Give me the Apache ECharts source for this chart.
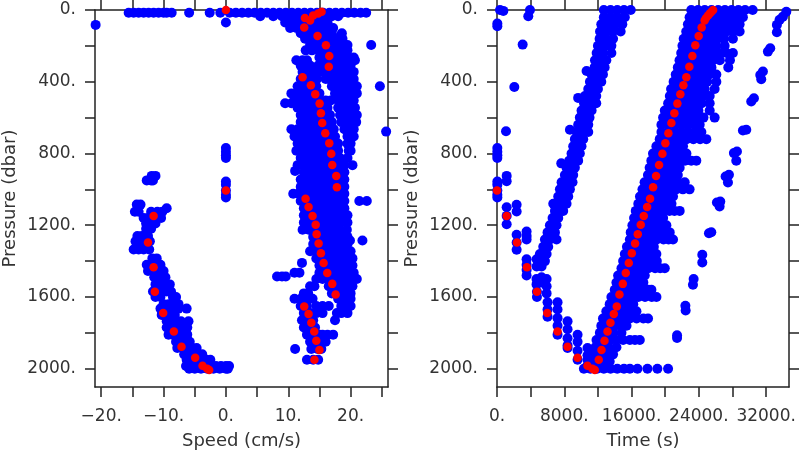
<!DOCTYPE html>
<html><head><meta charset="utf-8">
<style>html,body{margin:0;padding:0;background:#fff}#c{width:800px;height:450px}</style>
<script src="https://cdn.jsdelivr.net/npm/echarts@6/dist/echarts.min.js"></script>
</head><body><div id="c"></div>
<script>
// red profile
const redPressure=[1006,1148,1296,1434,1571,1690,1792,1877,1939,1983,2000,2007,1950,1896,1844,1792,1744,1695,1653,1586,1527,1467,1410,1356,1302,1250,1198,1148,1099,1053,988,925,864,802,743,687,630,576,522,470,420,375,316,256,197,145,98,59,45,30,20,10,0];
const redSpeed=[0,-11.6,-12.5,-11.6,-11.4,-10.06,-8.35,-7.12,-4.93,-3.75,-3,-2.68,14.2,15,14.5,14.17,13.7,13.26,12.56,17.6,17.06,16.26,15.67,15.24,14.87,14.55,14.4,13.9,13.26,12.78,17.8,17.7,17.06,16.9,16.58,15.94,15.45,15.24,15.03,14.33,13.63,12.3,16.5,16.58,16.04,14.7,12.56,13.5,12.67,14,14.8,15.35,0];
const redTime=[0,1150,2370,3560,4750,5975,7200,8390,9580,10760,11350,11630,12100,12425,12780,13140,13490,13890,14245,14560,14960,15310,15670,16030,16420,16740,17090,17450,17850,18200,18560,18915,19270,19670,20020,20380,20735,21090,21450,21800,22160,22515,22870,23230,23580,23980,24335,24690,24850,25100,25300,25500,25700];

// blue samples, each row: pressure, then speeds read at that pressure
const speedMainRows=[
[15,-15.6,-14.8,-14,-13.2,-12.4,-11.6,-10.8,-10,-9.5,-8.7,-5.9,-2.6,-0.9,0.6,1.6,2.6,3.6,4.6,5.6,6.6,7.6,8.6,9.6,10.6,11.6,12.6,13.6,14.6,15.6,16.6,17.6,18.6,19.6,20.6,21.6,22.5],
[35,5.5,7.6,9,10,11,12,13,14,15,16,17,18],
[70,9.5,10.5,11.5,12.5,13.5,14.5,15.5,16.3],
[100,10.3,11.3,12.3,13.3,14.3,15.3,16.3,17.2],
[130,12,13,14,15,16,17,18.6],
[160,12.7,13.7,14.7,15.7,16.7,17.7,18.7],
[195,13.5,14.5,15.5,16.5,17.5,18.5,19.5,23.3],
[225,12.8,13.8,14.8,15.5,16.5,17.5,18.5,19.5],
[265,15,15.6,16.6,17.6,18.6,19.6,20.5],
[280,11.3,12.3,13,16,17,18,19,20,20.7],
[310,12,13,13.5,14.8,15.5,16.5,17.5,18.5,19.5,20],
[345,12.3,13.3,14.3,15.5,16.5,17.5,18.5,19.5,20.5],
[385,12,13,14,14.6,16,16.5,17.5,18.5,19.5,20.5],
[425,11.5,12.5,13.5,14.5,17,18,19,20,21,24.7],
[465,10.5,11.5,12.5,13.5,14.5,15,17.5,18.5,19.5,20.5,21],
[505,11,12,13,14,15,16,16.8,18,18.5,19.5,20.5],
[520,9.5,10.5],
[545,11.5,12.5,13.5,14.5,15.5,16.3,18,18.7,19.7,20.7],
[585,12,13,14,15,16,16.7,18.3,19,20,21],
[625,12,13,14,15,16,17,18.5,19.3,20.2,20.9],
[665,10.5,11.5,12.5,13.5,14.5,15.5,16.3,17.3,19,19.7,20.5],
[678,25.7],
[705,11,12,13,14,15,16,17,17.5,19.5,20.5],
[745,11.5,12.5,13.5,14.5,15.5,16.5,17.5,18,19.5,20],
[785,11.3,12.3,13.3,14.3,15.3,16.3,17.3,18,19.7,20],
[825,12,13,14,15,16,17,18,18.3,19.5],
[865,11.5,12.5,13.5,14.5,15.5,16.5,17.5,18.5,19,20.3],
[897,11.1],
[905,12.5,13.5,14.5,15.5,16.5,17.5,18.5,19],
[945,12,13,14,15,16,17,18,19],
[985,12,13,14,15,16,17,18,19],
[1025,10.8,11.6,12.5,13.5,14.5,15.5,16.5,17.5,18.5,19],
[1065,12,13,14,15,16,17,18,19,21.4,22.6],
[1105,12.5,13.5,14.5,15.5,16.5,17.5,18.5,19],
[1145,12.5,13.5,14.5,15.5,16.5,17.5,18.5,19.5],
[1185,12.5,13.5,14.5,15.5,16.5,17.5,18.5,19.5],
[1225,12.3,13.3,14.3,15.3,16.3,17.3,18.3,19.4],
[1265,14,15,16,17,18,19,19.5],
[1285,19.9,21.9],
[1305,14,15,16,17,18,19,19.5],
[1345,13.5,14.5,15.5,16.5,17.5,18.5,19.5,20],
[1385,14.5,15.5,16.5,17.5,18.5,19.5,20.3],
[1410,12.2],
[1425,15,16,17,18,19,20,20.3],
[1465,11,11.8,15,16,17,18,19,20,20.5],
[1486,8.2,9,9.6],
[1500,14.5,15.5,16.5,17.5,18.5,19.5,20.5,21],
[1540,13.5,14.2,16.5,17.5,18.5,19.5,20.3],
[1580,12.5,13.2,17,18,19,20],
[1610,11,12,13,13.9,18,19,20],
[1650,12,13,14.5,15.5,16.5,18.5,19.5,20],
[1690,12.5,13.5,14.5,15.5,17.8,18.5,19.5],
[1730,12.2,13.2,14,17.5],
[1770,12.5,13.5,14.3],
[1810,13,14,15,15.5,16.3,17.2],
[1850,13.5,14.5,15.5,16],
[1890,11.1,13.7,14.7,15.3],
[1950,13,14,14.8]
];
const speedWestRows=[
[925,-11.9,-11.3],
[950,-12.7,-12,-11.7],
[1085,-14.3,-13.7],
[1105,-9.5],
[1125,-14.6,-14,-12,-11,-10.2],
[1160,-13.2,-12.5,-11.8,-11.1,-10.4],
[1190,-12.8,-12,-11.3],
[1220,-12.8,-12],
[1260,-14.2,-13.5,-13,-12.5],
[1290,-14.5,-13.8,-13,-12.2],
[1335,-14.8,-14,-13.2,-12.3],
[1385,-11.8,-11.1],
[1420,-12.7,-12,-11.2,-10.5],
[1455,-12.5,-11.7,-11,-10.5,-10],
[1490,-11.5,-10.8,-10.2,-9.7],
[1530,-11.3,-10.5,-9.8,-9],
[1570,-11.7,-11,-10.2,-9.5,-8.8],
[1600,-11.3,-10.5,-8.5,-8],
[1640,-10,-9.2,-8.4,-7.6],
[1665,-10.5,-9.8,-9,-8.2,-7.6,-6.3],
[1700,-10.3,-9.6,-8.9,-8.2],
[1735,-9.5,-8.7,-8,-7.2,-6],
[1770,-9.5,-8.7,-7.9,-7.1,-6.2],
[1810,-9.2,-8.5,-7.7,-7,-6.2],
[1850,-8,-7.3,-6.6,-5.8],
[1885,-7.8,-7,-6.2,-5.4,-4.7],
[1920,-6.7,-6,-5.2,-4.5,-3.8],
[1950,-6.3,-5.5,-4.8,-4,-3.2,-2.5],
[1985,-6.4,-5.6,-4.8,-4,-3.2,-2.4,-1.6,-0.8,0,0.5],
[2000,-5.9,-5,-4,-3,-2,-1,0,0.3]
];
const speedZeroRows=[[70,0],[83,-20.9],[770,0],[790,0],[810,0],[825,0],[956,0],[975,0],[1006,0],[1030,0],[1045,0]];

// blue samples, each row: pressure, then times read at that pressure
const timeMainRows=[
[0,23100,23900,24700,25500,26300,27100,27900,28700,29500,30400],
[40,22900,23700,24500,25300,26100,26900,27700,28500,29240],
[80,22700,23500,24300,25100,25900,26700,27500,28300,28850],
[120,22500,23300,24100,24900,25700,26500,27300,28100,28850],
[160,22200,23000,23800,24600,25400,26200,27000,28050],
[200,22050,22850,23650,24450,25250,26050,27070],
[240,21900,22700,23500,24300,25100,25900,26700,27300,28050],
[280,21700,22500,23300,24100,24900,25700,26500,27700],
[320,21500,22300,23100,23900,24700,25500,27500],
[360,21250,22050,22850,23650,24450,25250,26080],
[400,21000,21800,22600,23400,24200,25000,26080],
[440,20700,21500,22300,23100,23900,24700,25880],
[480,20550,21350,22150,22950,23750,24550,25290],
[520,20350,21150,21950,22750,23550,24350,25290],
[560,19950,20750,21550,22350,23150,23950,25290],
[600,19750,20550,21350,22150,22950,23750,24550,25880],
[640,19550,20350,21150,21950,22750,23550,24100],
[680,19550,20350,21150,21950,22750,23550,24300],
[720,19350,20150,20950,21750,22550,23350,24150,24890],
[760,18950,19750,20550,21350,22120],
[800,18550,19350,20150,20950,21750,22520],
[840,18350,19150,19950,20750,21550,22350,23100,23700],
[880,18150,18950,19750,20550,21350,21720],
[920,17950,18750,19550,20350,21150,21500],
[960,17550,18350,19150,19950,20750,21550,22320],
[1000,17300,18100,18900,19700,20500,21300,22100,22900],
[1040,17000,17800,18600,19400,20200,20930],
[1080,16800,17600,18400,19200,20000,20750],
[1120,16500,17300,18100,18900,19700,20500,21100,21720],
[1160,16300,17100,17900,18700,19500,19750],
[1200,16100,16900,17700,18500,19300,20140],
[1240,15900,16700,17500,18300,19100,19900,20540],
[1280,15800,16600,17400,18200,19000,19800,20400,20930],
[1320,15450,16250,17050,17850,18650],
[1360,15200,16000,16800,17600,18400,18950],
[1400,15000,15800,16600,17400,18200,19000],
[1440,14800,15600,16400,17200,18000,18800,19400,19950],
[1480,14400,15200,16000,16800,17570],
[1520,14200,15000,15800,16600,17400],
[1560,14000,14800,15600,16400,17200,18000,18360],
[1600,13600,14400,15200,16000,16800,17600,18400,18960],
[1640,13400,14200,15000,15400,16200],
[1680,13000,13800,14600,15400,16200,16580],
[1720,12600,13400,14200,15000,15800,16600,17400,17960],
[1760,12400,13200,14000,14800,15400],
[1800,12230,13000,13800,14800],
[1840,11830,12600,13400,14200,15000,15800,16400,16980],
[1880,11700,12500,13300,14200],
[1920,11450,12250,13050,13800],
[1960,11250,12050,12850,13400],
[2000,10330,11100,11900,12700,13500,14300,15100,15800,16700,17890,19070,20340]
];
const timeAscentRows=[
[0,12700,13500,14300,15100,15900],
[40,12700,13500,14300,15200],
[80,12400,13200,14000,14900],
[120,12250,13000,13800,14700],
[160,12200,13000,13800],
[200,12000,12800,13600],
[240,11850,12600,13600],
[280,11650,12500,13000],
[320,11600,12300,12800],
[340,10650],
[360,11250,12000,12600],
[400,11050,11800,12400],
[440,10850,11500,12000],
[480,10450,11200,11800],
[490,9650],
[520,10350,11100,11800],
[560,10050,10800,11250],
[600,9850,10600,11000],
[640,9650,10400,10850],
[668,8670],
[680,9460,10200,10850],
[720,9260,10000,10250],
[760,9060,9800,10050],
[800,8860,9600,9850],
[840,8590,9300,9650],
[855,7640],
[880,8270,9000,9260],
[920,8070,8800,9060],
[960,7680,8400,8980],
[1000,7480,8200,8670],
[1040,7280,8000,8470],
[1080,6690,7500,8270],
[1120,6890,7600,7870],
[1160,6610,7280],
[1200,6290,7080],
[1240,6010,6890],
[1280,5700,6290,7080],
[1320,5500,6090],
[1360,5100,5900],
[1400,4900,5700]
];
const timeDescentRows=[
[0,360,3920],[5,750],[35,3720],[75,40],[90,40],[193,3050],[429,2060],[676,1070],
[770,40],[790,40],[810,40],[825,40],[925,1150],[955,1150],[956,40],[975,40],[1006,40],[1030,40],[1045,40],
[1086,2335],[1100,1150],[1123,2335],[1148,1150],[1195,1150],[1235,3520],[1253,2335],[1260,3520],[1280,3520],[1296,2335],[1337,2335],
[1390,3520,4710],[1420,3520],[1430,4710,5300],[1450,3520],[1480,3520],[1490,5300],[1500,4700,5900],[1520,5300],[1530,4700],[1540,5900],[1571,4750],[1580,5900],[1600,4750],
[1630,6010,7200],[1670,6010,7200],[1710,6010],[1718,7200],[1736,8390],[1760,7200],[1780,8390],[1810,7200],[1811,9580],[1830,8390],[1850,9580],[1870,8390],[1885,8390,10760],[1900,9580],[1925,10760],[1950,9580,10760],[1983,10760]
];
const timeLatePressure=[10,37,55,83,124,213,232,343,362,386,492,510,668,672,789,798,841,919,928,962,1068,1073,1095,1239,1245,1365,1408,1500,1532,1649,1675,1814,1829];
const timeLateTime=[34400,34000,33600,33280,33280,32490,32210,31620,31300,31420,30550,30230,29640,29240,28530,28170,28450,27580,27180,27460,26550,26150,26470,25480,25200,24410,24410,23380,23300,22400,22430,21410,21410];

// axis ticks
const speedTicks=[-20,-15,-10,-5,0,5,10,15,20,25];
const speedLabels=[-20,-10,0,10,20];
const timeTicks=[0,4000,8000,12000,16000,20000,24000,28000,32000];
const timeLabels=[0,8000,16000,24000,32000];
const pressureTicks=[0,200,400,600,800,1000,1200,1400,1600,1800,2000];
const pressureLabels=[0,400,800,1200,1600,2000];

const flatten=rows=>rows.flatMap(r=>r.slice(1).map(v=>[v,r[0]]));
const blueSpeed=flatten(speedMainRows.concat(speedWestRows,speedZeroRows));
const blueTime=flatten(timeMainRows.concat(timeAscentRows,timeDescentRows)).concat(timeLateTime.map((t,i)=>[t,timeLatePressure[i]]));

const ink='#222', txt='#333', font='DejaVu Sans';
const fmt=v=>String(v).replace('-','\u2212')+'.';
const line={show:true,onZero:false,lineStyle:{color:ink,width:1.5}};
const tick=vals=>({show:true,inside:false,length:10,customValues:vals,lineStyle:{color:ink,width:1.5}});
function xAxes(i,min,max,ticks,labels,name){
  return [{gridIndex:i,type:'value',position:'bottom',min,max,axisLine:line,axisTick:tick(ticks),splitLine:{show:false},
    axisLabel:{customValues:labels,formatter:fmt,color:txt,fontFamily:font,fontSize:17,margin:21},
    name,nameLocation:'middle',nameGap:45,nameTextStyle:{color:txt,fontFamily:font,fontSize:18}},
   {gridIndex:i,type:'value',position:'top',min,max,axisLine:line,axisTick:tick(ticks),axisLabel:{show:false},splitLine:{show:false}}];
}
function yAxes(i){
  return [{gridIndex:i,type:'value',position:'left',inverse:true,min:0,max:2102,axisLine:line,axisTick:tick(pressureTicks),splitLine:{show:false},
    axisLabel:{customValues:pressureLabels,formatter:fmt,color:txt,fontFamily:font,fontSize:17,margin:19,padding:[4,0,0,0]},
    name:'Pressure (dbar)',nameLocation:'middle',nameRotate:90,nameGap:76,nameTextStyle:{color:txt,fontFamily:font,fontSize:18}},
   {gridIndex:i,type:'value',position:'right',inverse:true,min:0,max:2102,axisLine:line,axisTick:tick(pressureTicks),axisLabel:{show:false},splitLine:{show:false}}];
}
const scatter=(xi,yi,data,color,z,size)=>({type:'scatter',xAxisIndex:xi,yAxisIndex:yi,data,symbolSize:size,itemStyle:{color,opacity:1},z,clip:true,animation:false,large:false});
const chart=echarts.init(document.getElementById('c'),null,{renderer:'canvas'});
chart.setOption({
  animation:false,backgroundColor:'#fff',
  grid:[{left:95,right:412,top:10,bottom:63,outerBoundsMode:'none'},{left:497,right:11,top:10,bottom:63,outerBoundsMode:'none'}],
  xAxis:[...xAxes(0,-21,26,speedTicks,speedLabels,'Speed (cm/s)'),...xAxes(1,0,34720,timeTicks,timeLabels,'Time (s)')],
  yAxis:[...yAxes(0),...yAxes(1)],
  series:[
    scatter(0,0,blueSpeed,'#0000ff',2,10),
    scatter(0,0,redSpeed.map((v,i)=>[v,redPressure[i]]),'#ff0000',3,8.5),
    scatter(2,2,blueTime,'#0000ff',2,10),
    scatter(2,2,redTime.map((v,i)=>[v,redPressure[i]]),'#ff0000',3,8.5)
  ]
});
</script></body></html>
